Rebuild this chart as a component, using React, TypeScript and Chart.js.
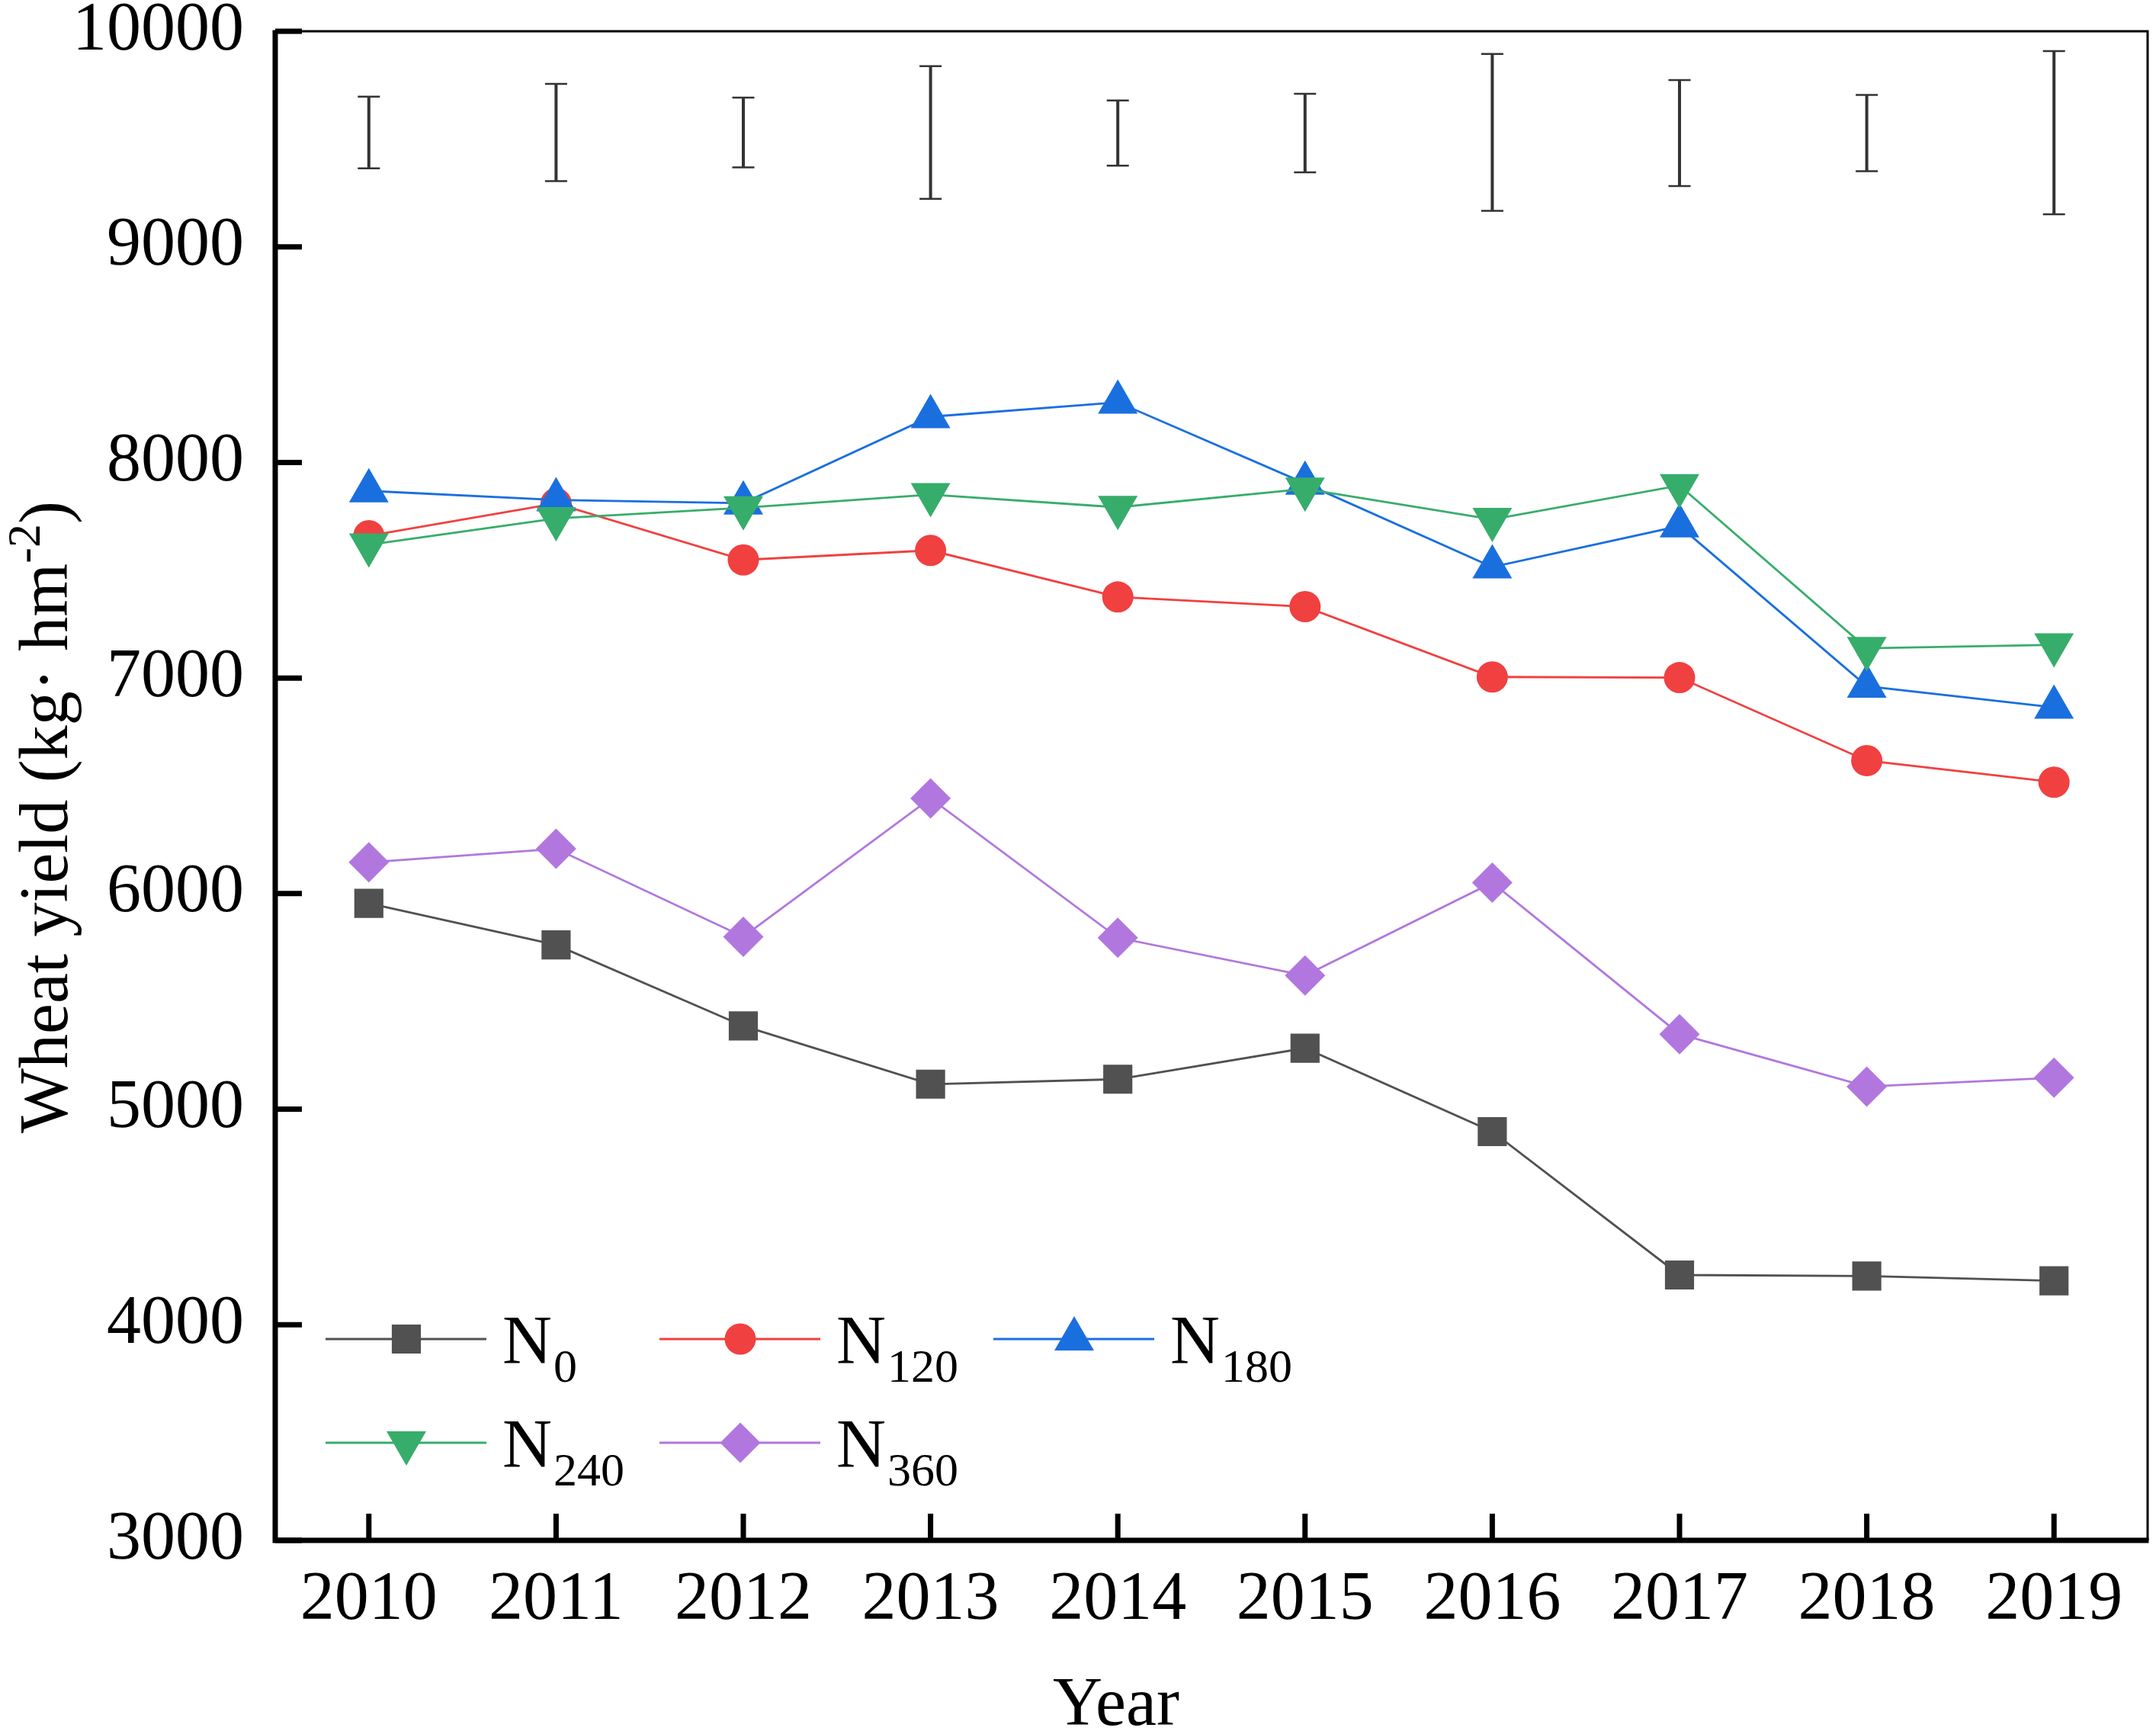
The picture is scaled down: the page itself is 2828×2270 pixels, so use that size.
import { useEffect, useRef } from "react"
import { Chart, registerables } from "chart.js"
import { drawPoint } from "chart.js/helpers"

Chart.register(...registerables)

const years = ["2010", "2011", "2012", "2013", "2014", "2015", "2016", "2017", "2018", "2019"]
const n0 = [5955, 5762, 5386, 5116, 5139, 5283, 4896, 4231, 4226, 4204]
const n120 = [7660, 7810, 7548, 7592, 7376, 7331, 7005, 7002, 6617, 6517]
const n180 = [7868, 7826, 7811, 8212, 8279, 7903, 7515, 7705, 6962, 6864]
const n240 = [7618, 7740, 7790, 7851, 7792, 7877, 7736, 7893, 7138, 7154]
const n360 = [6145, 6208, 5800, 6442, 5795, 5620, 6051, 5348, 5105, 5146]
// error bar ends drawn above the lines
const errLow = [9364, 9305, 9369, 9223, 9377, 9346, 9167, 9282, 9351, 9151]
const errHigh = [9697, 9756, 9692, 9838, 9679, 9710, 9895, 9774, 9705, 9908]
const yTicks = [3000, 4000, 5000, 6000, 7000, 8000, 9000, 10000]

const FONT = "'Liberation Serif', 'Times New Roman', serif"

const seriesStyles = [
  { label: "N", sub: "0", data: n0, color: "#515151", style: "rect", radius: 27, rotation: 0 },
  { label: "N", sub: "120", data: n120, color: "#F14040", style: "circle", radius: 20.5, rotation: 0 },
  { label: "N", sub: "180", data: n180, color: "#1A6FDF", style: "triangle", radius: 30, rotation: 0 },
  { label: "N", sub: "240", data: n240, color: "#37AD6B", style: "triangle", radius: 30, rotation: 180 },
  { label: "N", sub: "360", data: n360, color: "#B177DE", style: "rectRot", radius: 26.5, rotation: 0 },
]

const errorBars = {
  id: "errorBars",
  beforeDatasetsDraw(chart: any) {
    const { ctx, scales } = chart
    ctx.save()
    ctx.strokeStyle = "#333333"
    errLow.forEach((lo, i) => {
      const x = scales.x.getPixelForValue(i)
      const y1 = scales.y.getPixelForValue(lo)
      const y2 = scales.y.getPixelForValue(errHigh[i])
      ctx.lineWidth = 4
      ctx.beginPath()
      ctx.moveTo(x, y1)
      ctx.lineTo(x, y2)
      ctx.stroke()
      ctx.lineWidth = 2.5
      ctx.beginPath()
      ctx.moveTo(x - 14.5, y1)
      ctx.lineTo(x + 14.5, y1)
      ctx.moveTo(x - 14.5, y2)
      ctx.lineTo(x + 14.5, y2)
      ctx.stroke()
    })
    ctx.restore()
  },
}

const frame = {
  id: "frame",
  afterDraw(chart: any) {
    const { ctx, chartArea, scales } = chart
    const { left, right, top, bottom } = chartArea
    ctx.save()
    ctx.strokeStyle = "#000"
    // thin top and right
    ctx.lineWidth = 3
    ctx.beginPath()
    ctx.moveTo(left, top)
    ctx.lineTo(right, top)
    ctx.lineTo(right, bottom)
    ctx.stroke()
    // thick left and bottom
    ctx.lineWidth = 7
    ctx.beginPath()
    ctx.moveTo(left, top - 1.5)
    ctx.lineTo(left, bottom)
    ctx.lineTo(right + 1.5, bottom)
    ctx.stroke()
    // inward ticks
    ctx.lineWidth = 7
    ctx.beginPath()
    scales.y.ticks.forEach((t: any) => {
      const y = scales.y.getPixelForValue(t.value)
      ctx.moveTo(left, y)
      ctx.lineTo(left + 35, y)
    })
    years.forEach((_, i) => {
      const x = scales.x.getPixelForValue(i)
      ctx.moveTo(x, bottom)
      ctx.lineTo(x, bottom - 35)
    })
    ctx.stroke()

    // axis titles
    ctx.fillStyle = "#000"
    ctx.textBaseline = "alphabetic"
    ctx.textAlign = "left"
    ctx.font = `90px ${FONT}`
    const yw = ctx.measureText("Year").width
    ctx.fillText("Year", (left + right) / 2 - 125 - yw / 2, 2262)

    const parts = [
      { text: "Wheat yield (kg· hm", size: 90, rise: 0 },
      { text: "-2", size: 62, rise: 36 },
      { text: ")", size: 90, rise: 0 },
    ]
    let total = 0
    const widths = parts.map((p) => {
      ctx.font = `${p.size}px ${FONT}`
      const w = ctx.measureText(p.text).width
      total += w
      return w
    })
    ctx.translate(88, (top + bottom) / 2 + 41)
    ctx.rotate(-Math.PI / 2)
    let cx = -total / 2
    parts.forEach((p, i) => {
      ctx.font = `${p.size}px ${FONT}`
      ctx.fillText(p.text, cx, -p.rise)
      cx += widths[i]
    })
    ctx.restore()
  },
}

const legendBox = {
  id: "legendBox",
  afterDraw(chart: any) {
    const { ctx, chartArea } = chart
    const rows = [chartArea.bottom - 264, chartArea.bottom - 128]
    ctx.save()
    seriesStyles.forEach((s, i) => {
      const col = i < 3 ? i : i - 3
      const row = i < 3 ? 0 : 1
      const x0 = chartArea.left + 66 + col * 438
      const y = rows[row]
      ctx.strokeStyle = s.color
      ctx.lineWidth = 2.8
      ctx.beginPath()
      ctx.moveTo(x0, y)
      ctx.lineTo(x0 + 211, y)
      ctx.stroke()
      ctx.fillStyle = s.color
      drawPoint(ctx, { pointStyle: s.style as any, radius: s.radius, rotation: s.rotation, borderWidth: 0 }, x0 + 106, y)
      ctx.fillStyle = "#000"
      ctx.textBaseline = "alphabetic"
      ctx.textAlign = "left"
      ctx.font = `90px ${FONT}`
      const tx = x0 + 232
      ctx.fillText(s.label, tx, y + 31.5)
      const nw = ctx.measureText(s.label).width
      ctx.font = `62px ${FONT}`
      ctx.fillText(s.sub, tx + nw + 2, y + 56)
    })
    ctx.restore()
  },
}

export default function App() {
  const canvasRef = useRef<HTMLCanvasElement>(null)
  const chartRef = useRef<Chart | null>(null)

  useEffect(() => {
    if (!canvasRef.current) return
    if (chartRef.current) chartRef.current.destroy()

    chartRef.current = new Chart(canvasRef.current, {
      type: "line",
      data: {
        labels: years,
        datasets: seriesStyles.map((s, i) => ({
          label: s.label + s.sub,
          data: s.data,
          borderColor: s.color,
          backgroundColor: s.color,
          borderWidth: 2.8,
          pointStyle: s.style as any,
          pointRadius: s.radius,
          pointRotation: s.rotation,
          pointBackgroundColor: s.color,
          pointBorderColor: s.color,
          pointBorderWidth: 0,
          tension: 0,
          fill: false,
          order: seriesStyles.length - i,
        })),
      },
      options: {
        animation: false,
        responsive: true,
        maintainAspectRatio: false,
        devicePixelRatio: 1,
        layout: { autoPadding: false, padding: { top: 41, right: 11, left: 0, bottom: 0 } },
        plugins: {
          legend: { display: false },
          tooltip: { enabled: false },
        },
        scales: {
          x: {
            offset: true,
            grid: { display: false, drawTicks: false },
            border: { display: false },
            ticks: {
              color: "#000",
              font: { family: FONT, size: 90 },
              padding: 25,
              maxRotation: 0,
              autoSkip: false,
            },
            afterFit: (s: any) => {
              s.height = 250
              s.paddingLeft = 0
              s.paddingRight = 0
            },
          },
          y: {
            min: 3000,
            max: 10000,
            grid: { display: false, drawTicks: false },
            border: { display: false },
            afterBuildTicks: (s: any) => {
              s.ticks = yTicks.map((v) => ({ value: v }))
            },
            ticks: {
              color: "#000",
              font: { family: FONT, size: 90 },
              padding: 41,
              callback: (v: any) => String(v),
            },
            afterFit: (s: any) => {
              s.width = 361
              s.paddingTop = 0
              s.paddingBottom = 0
            },
          },
        },
      },
      plugins: [errorBars, frame, legendBox],
    })

    return () => {
      if (chartRef.current) {
        chartRef.current.destroy()
        chartRef.current = null
      }
    }
  }, [])

  return (
    <div style={{ position: "absolute", left: 0, top: 0, width: 2828, height: 2270, background: "#fff" }}>
      <canvas ref={canvasRef} />
    </div>
  )
}
